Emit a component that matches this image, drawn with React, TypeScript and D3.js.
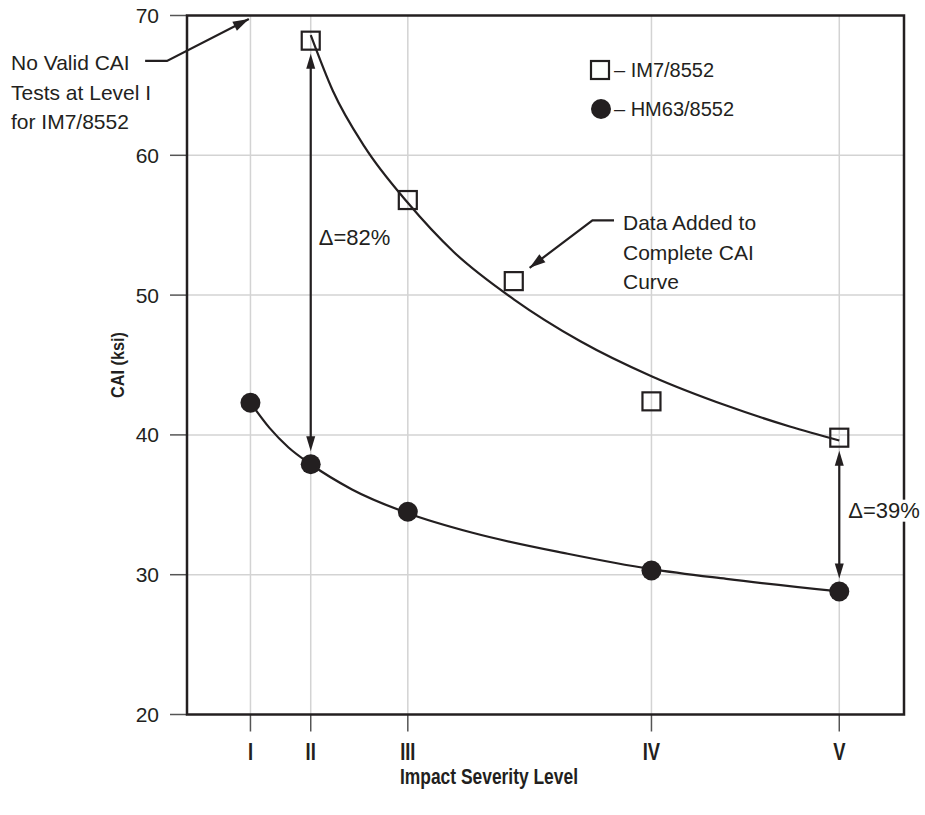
import React from "react";
import * as d3 from "d3";

// ---- data ----
const levelLabels = ["I", "II", "III", "IV", "V"];
const levelEnergy = [100, 195, 348, 732, 1028];
const yTicks = [20, 30, 40, 50, 60, 70];

const im7X = [195, 348, 515, 732, 1028];
const im7Y = [68.2, 56.8, 51.0, 42.4, 39.8];
const hm63X = [100, 195, 348, 732, 1028];
const hm63Y = [42.3, 37.9, 34.5, 30.3, 28.8];

const im7FitX = [195, 230, 280, 348, 420, 515, 620, 732, 850, 950, 1028];
const im7FitY = [68.6, 64.6, 60.6, 56.6, 53.1, 49.7, 46.7, 44.2, 42.1, 40.6, 39.6];
const hm63FitX = [100, 130, 160, 195, 260, 348, 450, 600, 732, 850, 1028];
const hm63FitY = [42.3, 40.5, 39.1, 37.9, 36.1, 34.4, 33.0, 31.5, 30.4, 29.7, 28.8];

const deltaX = [195, 1028];
const deltaTop = [68.2, 39.8];
const deltaBottom = [37.9, 28.8];
const deltaLabels = ["Δ=82%", "Δ=39%"];

const noValidLines = ["No Valid CAI", "Tests at Level I", "for IM7/8552"];
const dataAddedLines = ["Data Added to", "Complete CAI", "Curve"];

// ---- layout ----
const W = 925, H = 815;
const L = 187, R = 904, T = 15.5, B = 714.5;
const INK = "#231f20";
const FONT = "'Liberation Sans', Arial, Helvetica, sans-serif";

const x = d3.scaleLinear().domain([0, 1130]).range([L, R]);
const y = d3.scaleLinear().domain([20, 70]).range([B, T]);

function arrowHead(tx: number, ty: number, fx: number, fy: number, len = 15, half = 4.5) {
  const a = Math.atan2(ty - fy, tx - fx);
  const bx = tx - len * Math.cos(a), by = ty - len * Math.sin(a);
  const px = -Math.sin(a) * half, py = Math.cos(a) * half;
  return `M${tx},${ty}L${bx + px},${by + py}L${bx - px},${by - py}Z`;
}

export default function App() {
  const lineGen = d3
    .line<[number, number]>()
    .x((d) => x(d[0]))
    .y((d) => y(d[1]))
    .curve(d3.curveMonotoneX);

  const im7Fit = im7FitX.map((v, i) => [v, im7FitY[i]] as [number, number]);
  const hm63Fit = hm63FitX.map((v, i) => [v, hm63FitY[i]] as [number, number]);

  const nv = [
    [x(-66), y(66.75)],
    [x(-31.5), y(66.75)],
    [x(97.5), y(69.75)],
  ];
  const da = [
    [x(673), y(55.35)],
    [x(639), y(55.35)],
    [x(540), y(51.95)],
  ];

  return (
    <svg
      width={W}
      height={H}
      style={{ position: "absolute", left: 0, top: 0, background: "#fff" }}
      fontFamily={FONT}
    >
      <rect x={0} y={0} width={W} height={H} fill="#fff" />
      <g stroke="#d3d3d3" strokeWidth={1.5}>
        {levelEnergy.map((e, i) => (
          <line key={"gx" + i} x1={x(e)} x2={x(e)} y1={T} y2={B} />
        ))}
        {yTicks.slice(1, -1).map((t) => (
          <line key={"gy" + t} x1={L} x2={R} y1={y(t)} y2={y(t)} />
        ))}
      </g>
      <g stroke="#555" strokeWidth={1.5}>
        {yTicks.map((t) => (
          <line key={"ty" + t} x1={L - 17} x2={L} y1={y(t)} y2={y(t)} />
        ))}
        {levelEnergy.map((e, i) => (
          <line key={"tx" + i} x1={x(e)} x2={x(e)} y1={B} y2={B + 17} />
        ))}
      </g>
      {yTicks.map((t) => (
        <text key={"yl" + t} x={L - 28} y={y(t) + 7.5} textAnchor="end" fontSize={21} fill={INK}>
          {t}
        </text>
      ))}
      {levelEnergy.map((e, i) => (
        <text
          key={"xl" + i}
          x={x(e)}
          y={B + 46}
          textAnchor="middle"
          fontSize={23}
          fontWeight="bold"
          fill={INK}
          transform={`translate(${x(e)},0) scale(0.8,1) translate(${-x(e)},0)`}
        >
          {levelLabels[i]}
        </text>
      ))}
      <text
        x={489}
        y={B + 69}
        textAnchor="middle"
        fontSize={22}
        fontWeight="bold"
        fill={INK}
        textLength={178}
        lengthAdjust="spacingAndGlyphs"
      >
        Impact Severity Level
      </text>
      <text
        transform={`translate(124, ${y(45)}) rotate(-90)`}
        textAnchor="middle"
        fontSize={19}
        fontWeight="bold"
        fill={INK}
        textLength={66}
        lengthAdjust="spacingAndGlyphs"
      >
        CAI (ksi)
      </text>

      <path d={lineGen(im7Fit) || ""} fill="none" stroke={INK} strokeWidth={2.2} />
      <path d={lineGen(hm63Fit) || ""} fill="none" stroke={INK} strokeWidth={2.2} />

      {deltaX.map((e, i) => {
        const x0 = x(e);
        const y0 = y(deltaTop[i]) + 13;
        const y1 = y(deltaBottom[i]) - 13;
        return (
          <g key={"d" + i}>
            <line x1={x0} x2={x0} y1={y0 + 8} y2={y1 - 8} stroke={INK} strokeWidth={2.2} />
            <path d={arrowHead(x0, y0, x0, y1)} fill={INK} />
            <path d={arrowHead(x0, y1, x0, y0)} fill={INK} />
          </g>
        );
      })}
      <text x={x(deltaX[0]) + 8} y={y(53.55)} fontSize={22} fill={INK}>
        {deltaLabels[0]}
      </text>

      {hm63X.map((e, i) => (
        <circle key={"c" + i} cx={x(e)} cy={y(hm63Y[i])} r={10} fill={INK} />
      ))}
      {im7X.map((e, i) => (
        <rect
          key={"s" + i}
          x={x(e) - 9}
          y={y(im7Y[i]) - 9}
          width={18}
          height={18}
          fill="none"
          stroke={INK}
          strokeWidth={2.2}
        />
      ))}

      <rect x={L} y={T} width={R - L} height={B - T} fill="none" stroke={INK} strokeWidth={2.5} />

      <rect x={x(deltaX[1]) + 9} y={y(34.15) - 17} width={76} height={22} fill="#fff" />
      <text x={x(deltaX[1]) + 9} y={y(34.15) + 1} fontSize={22} fill={INK}>
        {deltaLabels[1]}
      </text>

      <rect x={591} y={61} width={18} height={18} fill="none" stroke={INK} strokeWidth={2.2} />
      <text x={614} y={77} fontSize={20} fill={INK}>
        – IM7/8552
      </text>
      <circle cx={601} cy={109} r={10} fill={INK} />
      <text x={614} y={116} fontSize={20} fill={INK}>
        – HM63/8552
      </text>

      {noValidLines.map((s, i) => (
        <text key={"nv" + i} x={11} y={70 + i * 29.5} fontSize={21} fill={INK}>
          {s}
        </text>
      ))}
      <polyline
        points={nv.map((p) => p.join(",")).join(" ")}
        fill="none"
        stroke={INK}
        strokeWidth={2.2}
      />
      <path d={arrowHead(nv[2][0], nv[2][1], nv[1][0], nv[1][1], 16, 5)} fill={INK} />

      {dataAddedLines.map((s, i) => (
        <text key={"da" + i} x={623} y={230 + i * 29.5} fontSize={21} fill={INK}>
          {s}
        </text>
      ))}
      <polyline
        points={da.map((p) => p.join(",")).join(" ")}
        fill="none"
        stroke={INK}
        strokeWidth={2.2}
      />
      <path d={arrowHead(da[2][0], da[2][1], da[1][0], da[1][1], 16, 5)} fill={INK} />
    </svg>
  );
}
